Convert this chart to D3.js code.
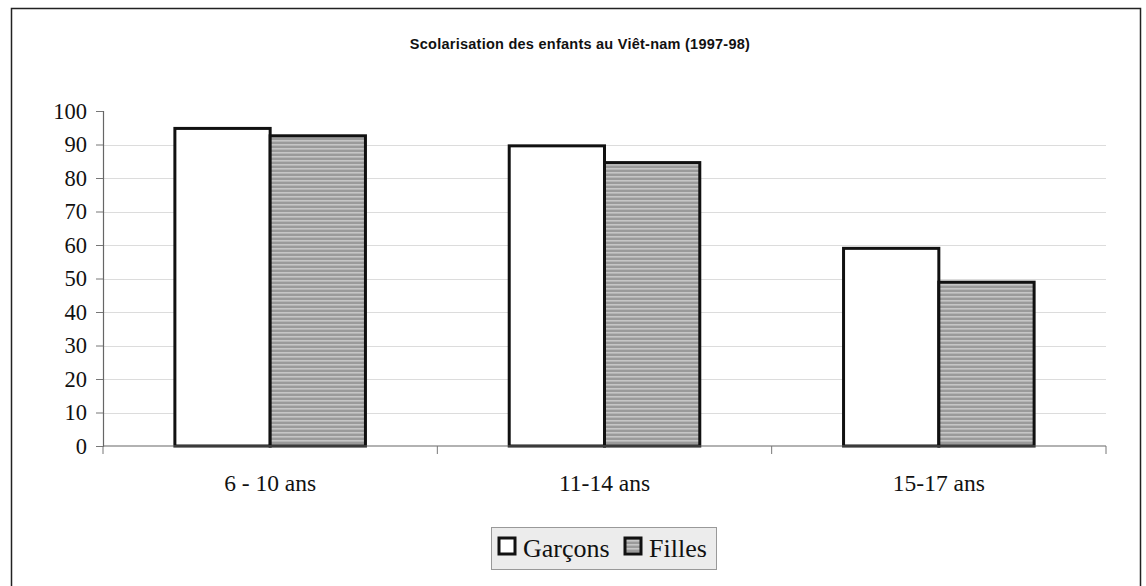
<!DOCTYPE html>
<html><head><meta charset="utf-8">
<script src="https://d3js.org/d3.v7.min.js"></script>
<style>body{margin:0;background:#fff}</style>
</head><body>
<svg id="c" width="1146" height="586"></svg>
<script>
const title = "Scolarisation des enfants au Viêt-nam (1997-98)";
const categories = ["6 - 10 ans", "11-14 ans", "15-17 ans"];
const seriesNames = ["Garçons", "Filles"];
const garcons = [94.8, 89.6, 59.0];
const filles = [92.6, 84.6, 48.9];
const yTicks = [0, 10, 20, 30, 40, 50, 60, 70, 80, 90, 100];

const svg = d3.select("#c");
const defs = svg.append("defs");
const pat = defs.append("pattern").attr("id", "stripes").attr("patternUnits", "userSpaceOnUse")
  .attr("width", 6).attr("height", 4);
pat.append("rect").attr("width", 6).attr("height", 4).attr("fill", "#9a9a9a");
pat.append("rect").attr("y", 0).attr("width", 6).attr("height", 1.6).attr("fill", "#c6c6c6");

// outer frame
svg.append("rect").attr("x", 11.5).attr("y", 8.5).attr("width", 1129).attr("height", 600)
  .attr("fill", "none").attr("stroke", "#222").attr("stroke-width", 1.5);

svg.append("text").attr("x", 580).attr("y", 49).attr("text-anchor", "middle")
  .attr("font-family", "Liberation Sans, Arial, sans-serif").attr("font-weight", "bold")
  .attr("font-size", 14.5).attr("letter-spacing", 0.25).attr("fill", "#111").text(title);

const x0 = 103, x1 = 1106, yTop = 111, yBot = 446;
const y = d3.scaleLinear().domain([0, 100]).range([yBot, yTop]);
const x = d3.scaleBand().domain(categories).range([x0, x1]).paddingInner(0.43).paddingOuter(0.215);
const xs = d3.scaleBand().domain(seriesNames).range([0, x.bandwidth()]);

// gridlines
svg.append("g").selectAll("line").data(yTicks.filter(t => t > 0 && t < 100)).join("line")
  .attr("x1", x0).attr("x2", x1).attr("y1", d => Math.round(y(d)) + 0.5).attr("y2", d => Math.round(y(d)) + 0.5)
  .attr("stroke", "#dcdcdc").attr("stroke-width", 1);

// y axis
const yAxis = d3.axisLeft(y).tickValues(yTicks).tickSize(7).tickPadding(9);
const gy = svg.append("g").attr("transform", `translate(${x0},0)`).call(yAxis);
gy.select(".domain").attr("stroke", "#666").attr("stroke-width", 1.2);
gy.selectAll(".tick line").attr("stroke", "#777");
gy.selectAll("text").attr("font-family", "Liberation Serif, Times New Roman, serif")
  .attr("font-size", 22.5).attr("fill", "#111");

// bars
const data = categories.map((c, i) => [
  {cat: c, s: seriesNames[0], v: garcons[i]},
  {cat: c, s: seriesNames[1], v: filles[i]}
]).flat();
svg.append("g").selectAll("rect").data(data).join("rect")
  .attr("x", d => x(d.cat) + xs(d.s))
  .attr("y", d => y(d.v))
  .attr("width", xs.bandwidth())
  .attr("height", d => y(0) - y(d.v))
  .attr("fill", d => d.s === "Garçons" ? "#fff" : "url(#stripes)")
  .attr("stroke", "#111").attr("stroke-width", 3);

// x axis
const gx = svg.append("g").attr("transform", `translate(0,${yBot})`);
gx.append("line").attr("x1", x0).attr("x2", x1).attr("y1", 0).attr("y2", 0).attr("stroke", "#666").attr("stroke-width", 1.2);
const bounds = [x0].concat(categories.map(c => x(c) + x.bandwidth() + x.step() * 0.43 / 2));
gx.selectAll("line.t").data(bounds).join("line").attr("class", "t")
  .attr("x1", d => d).attr("x2", d => d).attr("y1", 0).attr("y2", 8).attr("stroke", "#777");
gx.selectAll("text").data(categories).join("text")
  .attr("x", d => x(d) + x.bandwidth() / 2).attr("y", 45).attr("text-anchor", "middle")
  .attr("font-family", "Liberation Serif, Times New Roman, serif").attr("font-size", 23.5).attr("fill", "#111")
  .text(d => d);

// legend
const lg = svg.append("g");
lg.append("rect").attr("x", 491.5).attr("y", 527.5).attr("width", 225).attr("height", 42)
  .attr("fill", "#ececec").attr("stroke", "#999").attr("stroke-width", 1);
const items = [{s: seriesNames[0], mx: 499, tx: 523}, {s: seriesNames[1], mx: 625, tx: 649}];
lg.selectAll("rect.m").data(items).join("rect").attr("class", "m")
  .attr("x", d => d.mx).attr("y", 538).attr("width", 16).attr("height", 16)
  .attr("fill", d => d.s === "Garçons" ? "#fff" : "url(#stripes)")
  .attr("stroke", "#111").attr("stroke-width", 3);
lg.selectAll("text").data(items).join("text")
  .attr("x", d => d.tx).attr("y", 557)
  .attr("font-family", "Liberation Serif, Times New Roman, serif").attr("font-size", 26).attr("fill", "#111")
  .text(d => d.s);
</script>
</body></html>
